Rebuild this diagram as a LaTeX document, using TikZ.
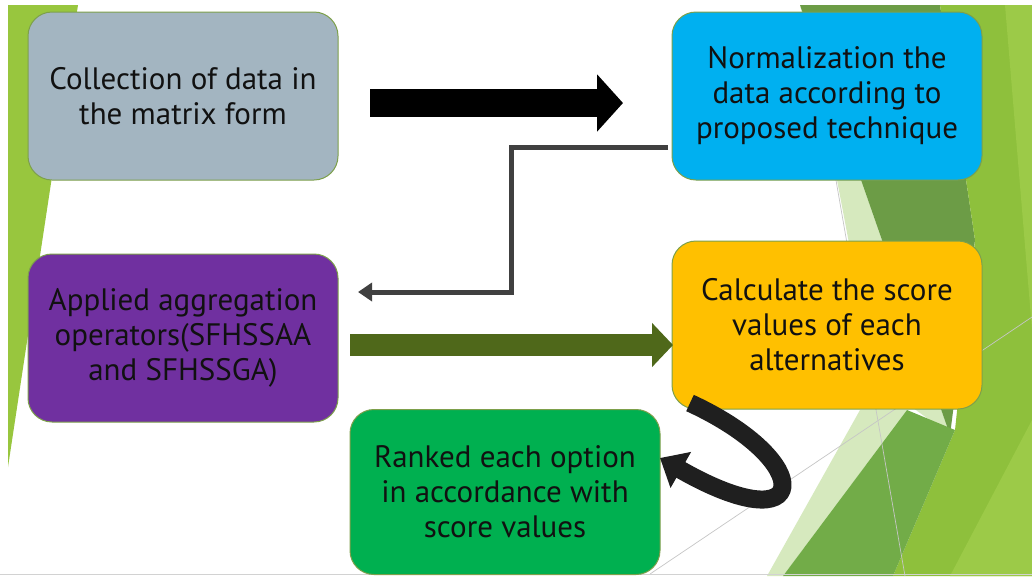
\documentclass[tikz,border=0pt]{standalone}
\usepackage{fontspec}
\setmainfont{PT Sans}
\usetikzlibrary{arrows.meta}
\definecolor{grayfill}{RGB}{163,181,193}
\definecolor{bluefill}{RGB}{0,176,240}
\definecolor{purplefill}{RGB}{112,48,160}
\definecolor{orangefill}{RGB}{255,192,0}
\definecolor{greenfill}{RGB}{0,176,80}
\definecolor{boxedge}{RGB}{125,160,75}
\definecolor{leftgreen}{RGB}{152,198,62}
\definecolor{darkfacet}{RGB}{108,156,70}
\definecolor{midfacet}{RGB}{114,172,72}
\definecolor{palefacet}{RGB}{214,233,190}
\definecolor{limefacet}{RGB}{142,192,60}
\definecolor{lightlime}{RGB}{156,202,72}
\definecolor{olivearrow}{RGB}{79,104,26}
\definecolor{elbowgray}{RGB}{64,64,64}
\definecolor{txt}{RGB}{17,17,17}
\begin{document}
\begin{tikzpicture}[x=1pt,y=-1pt,
  box/.style={draw=boxedge, line width=1pt, rounded corners=24pt,
    minimum width=310pt, minimum height=168pt, align=center, text=txt,
    font=\fontsize{31}{35}\selectfont, inner sep=0pt},
  blockblack/.style={line width=28pt, black, -{Triangle[length=26pt,width=56pt]}},
  blockolive/.style={line width=22pt, olivearrow, -{Triangle[length=21pt,width=43pt]}},
  elbow/.style={line width=5pt, elbowgray, -{Triangle[length=14pt,width=18pt]}},
  loop/.style={line width=18pt, black!88, -{Triangle[length=24pt,width=40pt]}},
  thinline/.style={gray!45, line width=0.7pt}
]
\useasboundingbox (0,0) rectangle (1032,576);
% background
\fill[white] (0,0) rectangle (1032,576);
\fill[leftgreen] (8,5) -- (78,5) -- (8,467) -- cycle;
\fill[palefacet] (818,80) -- (875,380) -- (950,435) -- (800,5) -- cycle;
\fill[darkfacet] (800,5) -- (940,5) -- (975,240) -- (950,435) -- cycle;
\fill[limefacet] (940,5) -- (1032,5) -- (1032,576) -- (893,576) -- (955,430) -- (975,240) -- cycle;
\fill[lightlime] (1005,5) -- (1032,5) -- (1032,330) -- cycle;
\fill[lightlime] (950,576) -- (1032,420) -- (1032,576) -- cycle;
\fill[palefacet] (767,576) -- (860,410) -- (907,410) -- (783,576) -- cycle;
\fill[midfacet] (783,576) -- (907,410) -- (955,430) -- (893,576) -- cycle;
\draw[thinline] (650,574) -- (1032,317);
\draw[thinline] (822,100) -- (905,576);
\draw[gray!35, line width=0.8pt] (0,574.5) -- (1032,574.5);
% boxes
\node[box, fill=grayfill] (b1) at (183,96) {Collection of data in\\the matrix form};
\node[box, fill=bluefill] (b2) at (827,96) {Normalization the\\data according to\\proposed technique};
\node[box, fill=purplefill] (b3) at (183,338) {Applied aggregation\\operators(SFHSSAA\\and SFHSSGA)};
\node[box, fill=orangefill] (b4) at (827,325) {Calculate the score\\values of each\\alternatives};
\node[box, fill=greenfill, minimum height=165pt] (b5) at (505,492) {Ranked each option\\in accordance with\\score values};
% connectors
\coordinate (a1s) at (370,103);
\coordinate (a1e) at (623,103);
\draw[blockblack] (a1s) -- (a1e);
\coordinate (e1) at (668,147);
\coordinate (e2) at (358,292);
\draw[elbow] (e1) -- (511,147) -- (511,292) -- (e2);
\coordinate (a2s) at (350,345);
\coordinate (a2e) at (673,345);
\draw[blockolive] (a2s) -- (a2e);
\coordinate (c1) at (690,403);
\coordinate (c2) at (660,458);
\draw[loop] (c1) .. controls (818,462) and (812,545) .. (c2);
\end{tikzpicture}
\end{document}
